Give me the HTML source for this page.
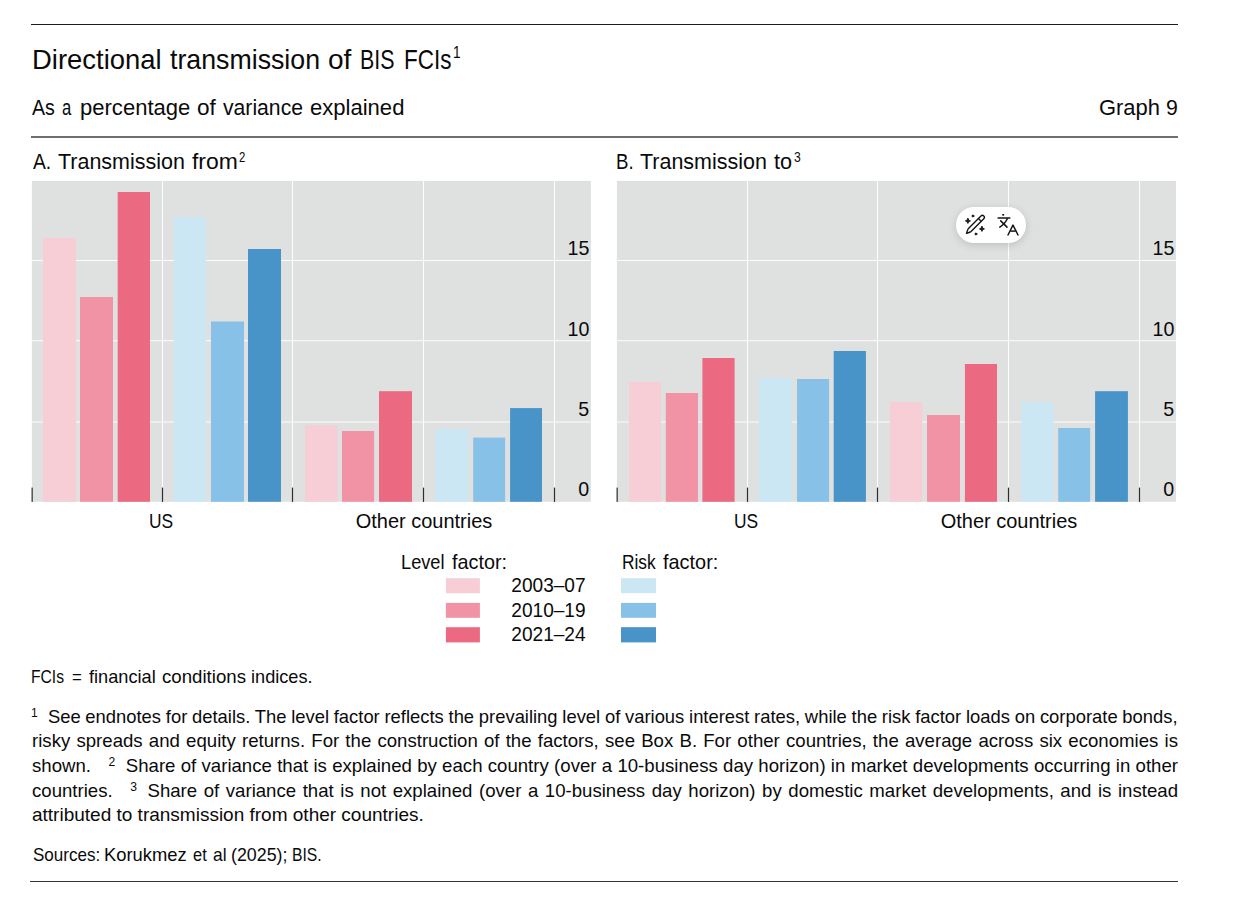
<!DOCTYPE html>
<html><head><meta charset="utf-8"><title>Directional transmission of BIS FCIs</title>
<style>
html,body{margin:0;padding:0;background:#fff;overflow:hidden;}
body{width:1237px;height:903px;position:relative;overflow:hidden;font-family:"Liberation Sans",sans-serif;color:#0a0a0a;}
.t{position:absolute;white-space:nowrap;line-height:1;}
.sp{position:relative;line-height:0;}
.g{display:inline-block;height:1px;}
.r{position:absolute;left:31px;width:1147px;}
#pill{position:absolute;left:956px;top:207px;width:70px;height:36px;border-radius:18px;background:#fff;box-shadow:0 2px 9px rgba(0,0,0,.15);}
</style></head><body>
<div class="r" style="top:24px;height:1px;background:#1c1c1c"></div>
<div class="r" style="top:136px;height:2px;background:#6f6f6f"></div>
<div class="r" style="top:881px;left:30px;width:1148px;height:1.2px;background:#333"></div>
<svg width="1237" height="903" viewBox="0 0 1237 903" style="position:absolute;left:0;top:0">
<rect x="31.90" y="180.90" width="559.00" height="320.90" fill="#dfe0e0"/>
<rect x="31.90" y="260.00" width="559.00" height="1.00" fill="#fcfcfc"/>
<rect x="31.90" y="340.20" width="559.00" height="1.00" fill="#fcfcfc"/>
<rect x="31.90" y="421.50" width="559.00" height="1.00" fill="#fcfcfc"/>
<rect x="161.95" y="180.90" width="1.10" height="320.90" fill="#fdfdfd"/>
<rect x="291.95" y="180.90" width="1.10" height="320.90" fill="#fdfdfd"/>
<rect x="422.95" y="180.90" width="1.10" height="320.90" fill="#fdfdfd"/>
<rect x="553.95" y="180.90" width="1.10" height="320.90" fill="#fdfdfd"/>
<rect x="43.00" y="238.00" width="33.00" height="263.80" fill="#f8ced6"/>
<rect x="80.00" y="297.00" width="33.00" height="204.80" fill="#f193a5"/>
<rect x="117.70" y="192.00" width="32.30" height="309.80" fill="#eb6a82"/>
<rect x="174.00" y="217.00" width="32.20" height="284.80" fill="#cbe7f4"/>
<rect x="211.00" y="321.50" width="33.00" height="180.30" fill="#88c1e8"/>
<rect x="248.00" y="249.00" width="33.00" height="252.80" fill="#4893c8"/>
<rect x="305.10" y="425.20" width="32.30" height="76.60" fill="#f8ced6"/>
<rect x="342.00" y="431.00" width="32.10" height="70.80" fill="#f193a5"/>
<rect x="379.00" y="391.20" width="33.00" height="110.60" fill="#eb6a82"/>
<rect x="435.40" y="429.10" width="33.00" height="72.70" fill="#cbe7f4"/>
<rect x="473.20" y="437.60" width="31.90" height="64.20" fill="#88c1e8"/>
<rect x="510.10" y="408.10" width="31.90" height="93.70" fill="#4893c8"/>
<rect x="31.55" y="487.60" width="1.20" height="14.30" fill="#2e2e2e"/>
<rect x="161.90" y="487.60" width="1.20" height="14.30" fill="#2e2e2e"/>
<rect x="291.90" y="487.60" width="1.20" height="14.30" fill="#2e2e2e"/>
<rect x="422.90" y="487.60" width="1.20" height="14.30" fill="#2e2e2e"/>
<rect x="553.90" y="487.60" width="1.20" height="14.30" fill="#2e2e2e"/>
<rect x="616.90" y="180.90" width="559.10" height="320.90" fill="#dfe0e0"/>
<rect x="616.90" y="260.00" width="559.10" height="1.00" fill="#fcfcfc"/>
<rect x="616.90" y="340.20" width="559.10" height="1.00" fill="#fcfcfc"/>
<rect x="616.90" y="421.50" width="559.10" height="1.00" fill="#fcfcfc"/>
<rect x="746.95" y="180.90" width="1.10" height="320.90" fill="#fdfdfd"/>
<rect x="876.95" y="180.90" width="1.10" height="320.90" fill="#fdfdfd"/>
<rect x="1007.95" y="180.90" width="1.10" height="320.90" fill="#fdfdfd"/>
<rect x="1138.95" y="180.90" width="1.10" height="320.90" fill="#fdfdfd"/>
<rect x="629.00" y="382.00" width="32.00" height="119.80" fill="#f8ced6"/>
<rect x="665.80" y="393.00" width="32.20" height="108.80" fill="#f193a5"/>
<rect x="702.40" y="358.00" width="32.20" height="143.80" fill="#eb6a82"/>
<rect x="759.00" y="378.00" width="33.10" height="123.80" fill="#cbe7f4"/>
<rect x="797.00" y="379.00" width="32.10" height="122.80" fill="#88c1e8"/>
<rect x="833.70" y="351.00" width="32.20" height="150.80" fill="#4893c8"/>
<rect x="890.10" y="402.00" width="32.00" height="99.80" fill="#f8ced6"/>
<rect x="927.00" y="415.00" width="33.00" height="86.80" fill="#f193a5"/>
<rect x="964.90" y="364.00" width="32.10" height="137.80" fill="#eb6a82"/>
<rect x="1021.30" y="402.00" width="32.10" height="99.80" fill="#cbe7f4"/>
<rect x="1058.20" y="428.00" width="31.90" height="73.80" fill="#88c1e8"/>
<rect x="1095.10" y="391.20" width="32.80" height="110.60" fill="#4893c8"/>
<rect x="616.55" y="487.60" width="1.20" height="14.30" fill="#2e2e2e"/>
<rect x="746.90" y="487.60" width="1.20" height="14.30" fill="#2e2e2e"/>
<rect x="876.90" y="487.60" width="1.20" height="14.30" fill="#2e2e2e"/>
<rect x="1007.90" y="487.60" width="1.20" height="14.30" fill="#2e2e2e"/>
<rect x="1138.90" y="487.60" width="1.20" height="14.30" fill="#2e2e2e"/>
<rect x="445.90" y="578.20" width="34.00" height="15.00" fill="#f8ced6"/>
<rect x="621.00" y="578.20" width="35.00" height="15.00" fill="#cbe7f4"/>
<rect x="445.90" y="602.90" width="34.00" height="14.90" fill="#f193a5"/>
<rect x="621.00" y="602.90" width="35.00" height="14.90" fill="#88c1e8"/>
<rect x="445.90" y="627.20" width="34.00" height="15.20" fill="#eb6a82"/>
<rect x="621.00" y="627.20" width="35.00" height="15.20" fill="#4893c8"/>
</svg>
<div class="t" style="left:31.67px;transform-origin:0 0;top:45.07px;font-size:28.5px;transform:scaleX(0.9626);">Directional</div>
<div class="t" style="left:170.20px;transform-origin:0 0;top:45.07px;font-size:28.5px;transform:scaleX(0.9379);">transmission</div>
<div class="t" style="left:327.92px;transform-origin:0 0;top:45.07px;font-size:28.5px;transform:scaleX(0.9847);">of</div>
<div class="t" style="left:360.30px;transform-origin:0 0;top:45.07px;font-size:28.5px;transform:scaleX(0.7501);">BIS</div>
<div class="t" style="left:404.32px;transform-origin:0 0;top:45.07px;font-size:28.5px;transform:scaleX(0.7892);">FCIs</div>
<div class="t" style="left:453.48px;transform-origin:0 0;top:44.03px;font-size:16.5px;transform:scaleX(0.8250);">1</div>
<div class="t" style="left:32.00px;transform-origin:0 0;top:96.72px;font-size:22.3px;transform:scaleX(0.8774);">As</div>
<div class="t" style="left:62.30px;transform-origin:0 0;top:96.72px;font-size:22.3px;transform:scaleX(0.7462);">a</div>
<div class="t" style="left:79.51px;transform-origin:0 0;top:96.72px;font-size:22.3px;transform:scaleX(0.9885);">percentage</div>
<div class="t" style="left:197.00px;transform-origin:0 0;top:96.72px;font-size:22.3px;transform:scaleX(1.0103);">of</div>
<div class="t" style="left:222.60px;transform-origin:0 0;top:96.72px;font-size:22.3px;transform:scaleX(0.9490);">variance</div>
<div class="t" style="left:310.20px;transform-origin:0 0;top:96.72px;font-size:22.3px;transform:scaleX(0.9888);">explained</div>
<div class="t" style="left:1099.12px;transform-origin:0 0;top:96.62px;font-size:22.3px;transform:scaleX(0.9837);">Graph</div>
<div class="t" style="left:1165.85px;transform-origin:0 0;top:96.62px;font-size:22.3px;transform:scaleX(0.9545);">9</div>
<div class="t" style="left:32.60px;transform-origin:0 0;top:150.72px;font-size:22.3px;transform:scaleX(0.8655);">A.</div>
<div class="t" style="left:58.10px;transform-origin:0 0;top:150.72px;font-size:22.3px;transform:scaleX(0.9628);">Transmission</div>
<div class="t" style="left:192.00px;transform-origin:0 0;top:150.72px;font-size:22.3px;transform:scaleX(1.0268);">from</div>
<div class="t" style="left:238.70px;transform-origin:0 0;top:150.23px;font-size:14.5px;transform:scaleX(0.7875);">2</div>
<div class="t" style="left:616.26px;transform-origin:0 0;top:150.62px;font-size:22.3px;transform:scaleX(0.8372);">B.</div>
<div class="t" style="left:640.30px;transform-origin:0 0;top:150.62px;font-size:22.3px;transform:scaleX(0.9628);">Transmission</div>
<div class="t" style="left:774.20px;transform-origin:0 0;top:150.62px;font-size:22.3px;transform:scaleX(0.9728);">to</div>
<div class="t" style="left:794.00px;transform-origin:0 0;top:150.23px;font-size:14.5px;transform:scaleX(0.8375);">3</div>
<div class="t" style="right:647.80px;transform-origin:100% 0;top:238.20px;font-size:20.2px;transform:scaleX(0.973);">15</div>
<div class="t" style="right:647.80px;transform-origin:100% 0;top:318.60px;font-size:20.2px;transform:scaleX(0.973);">10</div>
<div class="t" style="right:647.80px;transform-origin:100% 0;top:399.00px;font-size:20.2px;transform:scaleX(0.973);">5</div>
<div class="t" style="right:647.80px;transform-origin:100% 0;top:479.40px;font-size:20.2px;transform:scaleX(0.973);">0</div>
<div class="t" style="left:10.60px;width:300px;text-align:center;transform-origin:50% 0;top:510.90px;font-size:20.2px;transform:scaleX(0.861);">US</div>
<div class="t" style="left:273.90px;width:300px;text-align:center;transform-origin:50% 0;top:510.90px;font-size:20.2px;transform:scaleX(0.99);">Other countries</div>
<div class="t" style="right:62.80px;transform-origin:100% 0;top:238.20px;font-size:20.2px;transform:scaleX(0.973);">15</div>
<div class="t" style="right:62.80px;transform-origin:100% 0;top:318.60px;font-size:20.2px;transform:scaleX(0.973);">10</div>
<div class="t" style="right:62.80px;transform-origin:100% 0;top:399.00px;font-size:20.2px;transform:scaleX(0.973);">5</div>
<div class="t" style="right:62.80px;transform-origin:100% 0;top:479.40px;font-size:20.2px;transform:scaleX(0.973);">0</div>
<div class="t" style="left:595.60px;width:300px;text-align:center;transform-origin:50% 0;top:510.90px;font-size:20.2px;transform:scaleX(0.861);">US</div>
<div class="t" style="left:858.90px;width:300px;text-align:center;transform-origin:50% 0;top:510.90px;font-size:20.2px;transform:scaleX(0.99);">Other countries</div>
<div class="t" style="left:400.90px;transform-origin:0 0;top:551.80px;font-size:20.2px;transform:scaleX(0.9022);">Level</div>
<div class="t" style="left:451.90px;transform-origin:0 0;top:551.80px;font-size:20.2px;transform:scaleX(0.9819);">factor:</div>
<div class="t" style="left:622.14px;transform-origin:0 0;top:551.80px;font-size:20.2px;transform:scaleX(0.8581);">Risk</div>
<div class="t" style="left:663.00px;transform-origin:0 0;top:551.80px;font-size:20.2px;transform:scaleX(0.9855);">factor:</div>
<div class="t" style="right:651.10px;transform-origin:100% 0;top:575.30px;font-size:20.2px;transform:scaleX(0.945);">2003–07</div>
<div class="t" style="right:651.10px;transform-origin:100% 0;top:599.90px;font-size:20.2px;transform:scaleX(0.945);">2010–19</div>
<div class="t" style="right:651.10px;transform-origin:100% 0;top:624.20px;font-size:20.2px;transform:scaleX(0.945);">2021–24</div>
<div class="t" style="left:31.45px;transform-origin:0 0;top:667.62px;font-size:18.4px;transform:scaleX(0.8505);">FCIs</div>
<div class="t" style="left:71.70px;transform-origin:0 0;top:667.62px;font-size:18.4px;transform:scaleX(0.9100);">=</div>
<div class="t" style="left:88.60px;transform-origin:0 0;top:667.62px;font-size:18.4px;transform:scaleX(0.9881);">financial</div>
<div class="t" style="left:161.60px;transform-origin:0 0;top:667.62px;font-size:18.4px;transform:scaleX(1.0143);">conditions</div>
<div class="t" style="left:251.21px;transform-origin:0 0;top:667.62px;font-size:18.4px;transform:scaleX(0.9876);">indices.</div>
<div class="t" style="left:32.60px;transform-origin:0 0;top:845.92px;font-size:18.4px;transform:scaleX(0.9263);">Sources:</div>
<div class="t" style="left:103.90px;transform-origin:0 0;top:845.92px;font-size:18.4px;transform:scaleX(0.9989);">Korukmez</div>
<div class="t" style="left:193.20px;transform-origin:0 0;top:845.92px;font-size:18.4px;transform:scaleX(0.8931);">et</div>
<div class="t" style="left:212.90px;transform-origin:0 0;top:845.92px;font-size:18.4px;transform:scaleX(0.9450);">al</div>
<div class="t" style="left:231.23px;transform-origin:0 0;top:845.92px;font-size:18.4px;transform:scaleX(0.9687);">(2025);</div>
<div class="t" style="left:292.45px;transform-origin:0 0;top:845.92px;font-size:18.4px;transform:scaleX(0.8547);">BIS.</div>
<div class="t" style="left:31.6px;top:708.12px;width:1146.00px;font-size:18.4px;transform-origin:0 0;transform:scaleX(1.0);white-space:normal;text-align:justify;text-align-last:justify;word-spacing:-0.45px;"><span class="g" style="width:0px;margin-left:-0.7px"></span><span class="sp" style="font-size:12px;top:-6.3px">1</span><span class="g" style="width:10.3px"></span>See endnotes for details. The level factor reflects the prevailing level of various interest rates, while the risk factor loads on corporate bonds,</div>
<div class="t" style="left:31.6px;top:732.22px;width:1132.41px;font-size:18.4px;transform-origin:0 0;transform:scaleX(1.012);white-space:normal;text-align:justify;text-align-last:justify;">risky spreads and equity returns. For the construction of the factors, see Box B. For other countries, the average across six economies is</div>
<div class="t" style="left:31.6px;top:757.32px;width:1132.41px;font-size:18.4px;transform-origin:0 0;transform:scaleX(1.012);white-space:normal;text-align:justify;text-align-last:justify;">shown.<span class="g" style="width:17.4px"></span><span class="sp" style="font-size:12px;top:-6.3px">2</span><span class="g" style="width:10.3px"></span>Share of variance that is explained by each country (over a 10-business day horizon) in market developments occurring in other</div>
<div class="t" style="left:31.6px;top:782.02px;width:1132.41px;font-size:18.4px;transform-origin:0 0;transform:scaleX(1.012);white-space:normal;text-align:justify;text-align-last:justify;">countries.<span class="g" style="width:17.4px"></span><span class="sp" style="font-size:12px;top:-6.3px">3</span><span class="g" style="width:10.3px"></span>Share of variance that is not explained (over a 10-business day horizon) by domestic market developments, and is instead</div>
<div class="t" style="left:31.6px;top:806.42px;width:1109.39px;font-size:18.4px;transform-origin:0 0;transform:scaleX(1.033);white-space:normal;">attributed to transmission from other countries.</div>
<div id="pill"></div>
<svg width="1237" height="903" viewBox="0 0 1237 903" style="position:absolute;left:0;top:0" fill="none" stroke="#141414" stroke-linecap="round" stroke-linejoin="round">
<g transform="translate(966.1,233.7) rotate(-45)" stroke-width="1.35">
<path d="M0.6,0 Q3.0,-1.3 5.0,-2.0 L23.0,-2.0 A2.0,2.0 0 0 1 23.0,2.0 L5.0,2.0 Q3.0,1.3 0.6,0 Z"/>
<path d="M19.4,-2.0 L19.4,2.0"/>
</g>
<g fill="#141414" stroke-width="0.9">
<path d="M967.9,218.4 Q968.2,220.6 970.4,220.9 Q968.2,221.2 967.9,223.4 Q967.6,221.2 965.4,220.9 Q967.6,220.6 967.9,218.4 Z"/>
<path d="M981.95,226.4 Q982.25,228.6 984.45,228.9 Q982.25,229.2 981.95,231.4 Q981.65,229.2 979.45,228.9 Q981.65,228.6 981.95,226.4 Z"/>
<circle cx="972.9" cy="216.0" r="0.95"/>
<circle cx="975.9" cy="234.0" r="0.95"/>
<rect x="1002.9" y="214.5" width="1.0" height="0.7"/>
</g>
<g stroke-width="1.5">
<path d="M998.1,217.9 L1009.8,217.9"/>
<path d="M1007.3,218.7 Q1005.4,223.2 999.8,227.1"/>
<path d="M1000.7,220.9 L1007.0,227.1"/>
<path d="M1008.0,235.0 L1012.95,225.1 L1018.0,235.0"/>
<path d="M1010.4,231.1 L1015.6,231.1" stroke-linecap="butt"/>
</g>
</svg>
</body></html>
